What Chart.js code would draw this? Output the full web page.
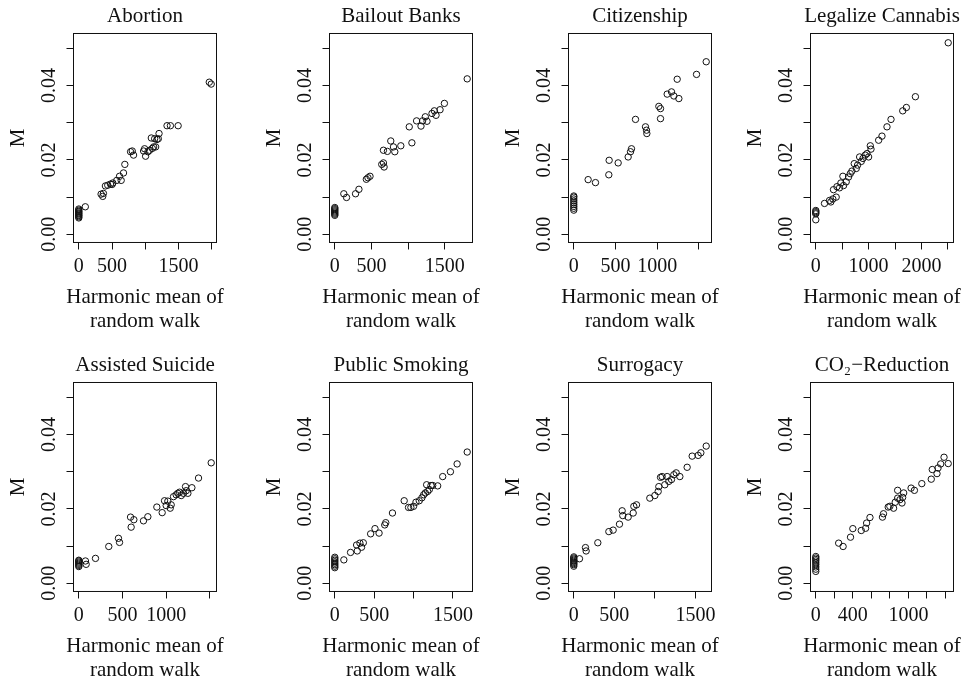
<!DOCTYPE html>
<html>
<head>
<meta charset="utf-8">
<script src="https://cdn.jsdelivr.net/npm/chart.js@4.4.0/dist/chart.umd.min.js"></script>
<style>
    html, body { margin: 0; padding: 0; background: #fff; overflow: hidden; }
    #board { position: relative; width: 965px; height: 682px; overflow: hidden; }
    .panel { position: absolute; width: 290px; height: 341px; }
</style>
</head>
<body>
<div id="board"></div>
<script>
// Shared y axis
const yTicks = [0, 0.01, 0.02, 0.03, 0.04, 0.05];
const yTickLabels = [0, 0.02, 0.04];

// Abortion
const abortionX = [0, 0, 0, 0, 0, 0, 0, 0, 0, 0, 98, 335, 360, 370, 400, 435, 476, 501, 511, 571, 612, 637, 672, 692, 778, 803, 823, 974, 989, 1004, 1039, 1064, 1090, 1105, 1125, 1140, 1155, 1175, 1206, 1195, 1326, 1377, 1493, 1961, 1990];
const abortionM = [0.0044, 0.0047, 0.005, 0.0052, 0.0055, 0.0057, 0.006, 0.0062, 0.0065, 0.0068, 0.0074, 0.0108, 0.0102, 0.011, 0.013, 0.0132, 0.0135, 0.0134, 0.0138, 0.0145, 0.0156, 0.0145, 0.0165, 0.0188, 0.0222, 0.0224, 0.0213, 0.0224, 0.023, 0.021, 0.0222, 0.0226, 0.0259, 0.0231, 0.0235, 0.0257, 0.0235, 0.0255, 0.0271, 0.0257, 0.0292, 0.0292, 0.0292, 0.0409, 0.0404];
const abortionTicks = [0, 500, 1000, 1500, 2000];
const abortionLabels = [0, 500, 1500];

// Bailout Banks
const bailoutX = [0, 0, 0, 0, 0, 0, 0, 0, 123, 160, 283, 329, 430, 452, 480, 640, 663, 672, 663, 717, 763, 800, 818, 900, 1015, 1051, 1115, 1175, 1197, 1234, 1257, 1325, 1357, 1380, 1435, 1494, 1805];
const bailoutM = [0.0051, 0.0054, 0.0057, 0.006, 0.0063, 0.0066, 0.0069, 0.0072, 0.0109, 0.0099, 0.0109, 0.0121, 0.0148, 0.0152, 0.0156, 0.0188, 0.0192, 0.0181, 0.0226, 0.0223, 0.0251, 0.0235, 0.0222, 0.0238, 0.0289, 0.0246, 0.0305, 0.0291, 0.0305, 0.0316, 0.0304, 0.0325, 0.0332, 0.032, 0.0335, 0.0352, 0.0418];
const bailoutTicks = [0, 500, 1000, 1500];
const bailoutLabels = [0, 500, 1500];

// Citizenship
const citizenX = [0, 0, 0, 0, 0, 0, 0, 0, 0, 172, 260, 420, 424, 532, 652, 680, 692, 740, 860, 872, 876, 1020, 1040, 1040, 1120, 1172, 1200, 1240, 1260, 1472, 1588];
const citizenM = [0.0065, 0.007, 0.0075, 0.008, 0.0085, 0.009, 0.0095, 0.01, 0.0103, 0.0147, 0.0139, 0.016, 0.0199, 0.0192, 0.0208, 0.0222, 0.023, 0.0309, 0.0289, 0.028, 0.0271, 0.0344, 0.0338, 0.0311, 0.0377, 0.0383, 0.0372, 0.0417, 0.0365, 0.043, 0.0464];
const citizenTicks = [0, 500, 1000, 1500];
const citizenLabels = [0, 500, 1000];

// Legalize Cannabis
const cannabisX = [0, 0, 0, 0, 0, 165, 260, 285, 323, 335, 386, 400, 450, 475, 513, 525, 576, 620, 652, 684, 728, 766, 791, 830, 861, 893, 937, 968, 1000, 1032, 1045, 1190, 1253, 1348, 1424, 1646, 1715, 1886, 2507];
const cannabisM = [0.0039, 0.0055, 0.0058, 0.0061, 0.0064, 0.0083, 0.0091, 0.0087, 0.0095, 0.012, 0.01, 0.0128, 0.0125, 0.0138, 0.0156, 0.0131, 0.0141, 0.0154, 0.0163, 0.017, 0.019, 0.0177, 0.0186, 0.0208, 0.0196, 0.0204, 0.0213, 0.0217, 0.0208, 0.0238, 0.0229, 0.0253, 0.0264, 0.0289, 0.0309, 0.0332, 0.0341, 0.037, 0.0515];
const cannabisTicks = [0, 500, 1000, 1500, 2000, 2500];
const cannabisLabels = [0, 1000, 2000];

// Assisted Suicide
const suicideX = [0, 0, 0, 0, 0, 0, 0, 76, 84, 191, 343, 454, 466, 592, 599, 630, 740, 790, 893, 954, 981, 1000, 1019, 1046, 1057, 1084, 1114, 1133, 1153, 1172, 1198, 1221, 1229, 1248, 1294, 1370, 1515];
const suicideM = [0.0045, 0.0048, 0.0051, 0.0054, 0.0057, 0.006, 0.0062, 0.006, 0.0051, 0.0067, 0.0099, 0.0121, 0.011, 0.0178, 0.0151, 0.0171, 0.0168, 0.0179, 0.0205, 0.019, 0.0222, 0.0209, 0.0221, 0.0202, 0.0211, 0.0233, 0.0238, 0.0242, 0.0245, 0.0236, 0.0242, 0.026, 0.0249, 0.0242, 0.0257, 0.0283, 0.0324];
const suicideTicks = [0, 500, 1000, 1500];
const suicideLabels = [0, 500, 1000];

// Public Smoking
const smokingX = [0, 0, 0, 0, 0, 0, 0, 0, 115, 200, 277, 285, 319, 340, 362, 455, 510, 562, 634, 647, 732, 881, 936, 966, 1000, 1030, 1072, 1106, 1128, 1149, 1166, 1179, 1200, 1221, 1243, 1306, 1370, 1468, 1553, 1681];
const smokingM = [0.0042, 0.0046, 0.005, 0.0054, 0.0058, 0.0062, 0.0066, 0.007, 0.0063, 0.0083, 0.0103, 0.0087, 0.0108, 0.0097, 0.0109, 0.0133, 0.0147, 0.0135, 0.0157, 0.0163, 0.0189, 0.0222, 0.0204, 0.0204, 0.0207, 0.0218, 0.0222, 0.023, 0.0238, 0.0243, 0.0265, 0.0247, 0.0252, 0.0263, 0.0263, 0.0262, 0.0287, 0.03, 0.0321, 0.0353];
const smokingTicks = [0, 500, 1000, 1500];
const smokingLabels = [0, 500, 1500];

// Surrogacy
const surrogacyX = [0, 0, 0, 0, 0, 0, 0, 0, 0, 70, 144, 152, 296, 432, 485, 563, 596, 604, 670, 732, 740, 773, 937, 999, 1040, 1048, 1069, 1089, 1122, 1151, 1171, 1204, 1233, 1262, 1307, 1397, 1459, 1533, 1566, 1632];
const surrogacyM = [0.0046, 0.005, 0.0053, 0.0056, 0.0059, 0.0062, 0.0065, 0.0068, 0.0071, 0.0066, 0.0096, 0.0087, 0.0109, 0.0139, 0.0143, 0.0159, 0.0195, 0.0182, 0.0178, 0.0189, 0.0207, 0.0211, 0.0229, 0.0236, 0.0247, 0.026, 0.0285, 0.0287, 0.0265, 0.0287, 0.0274, 0.0279, 0.0292, 0.0297, 0.0287, 0.0312, 0.0342, 0.0344, 0.0351, 0.0369];
const surrogacyTicks = [0, 500, 1000, 1500];
const surrogacyLabels = [0, 500, 1500];

// CO2-Reduction
const co2X = [0, 0, 0, 0, 0, 0, 0, 0, 0, 247, 295, 375, 400, 491, 538, 549, 585, 720, 731, 782, 800, 840, 858, 884, 884, 909, 931, 938, 949, 1029, 1065, 1145, 1247, 1258, 1309, 1320, 1349, 1385, 1430];
const co2M = [0.0032, 0.0038, 0.0044, 0.005, 0.0055, 0.006, 0.0064, 0.0068, 0.0072, 0.0108, 0.0099, 0.0124, 0.0147, 0.0142, 0.0148, 0.0162, 0.0177, 0.0178, 0.0187, 0.0205, 0.0207, 0.0202, 0.0218, 0.025, 0.0229, 0.0225, 0.0216, 0.0231, 0.0243, 0.0256, 0.025, 0.0268, 0.028, 0.0306, 0.0295, 0.031, 0.0321, 0.0339, 0.0322];
const co2Ticks = [0, 200, 400, 600, 800, 1000, 1200, 1400];
const co2Labels = [0, 400, 1000];

const panels = [
    { title: 'Abortion', x: abortionX, m: abortionM, ticks: abortionTicks, labels: abortionLabels },
    { title: 'Bailout Banks', x: bailoutX, m: bailoutM, ticks: bailoutTicks, labels: bailoutLabels },
    { title: 'Citizenship', x: citizenX, m: citizenM, ticks: citizenTicks, labels: citizenLabels },
    { title: 'Legalize Cannabis', x: cannabisX, m: cannabisM, ticks: cannabisTicks, labels: cannabisLabels },
    { title: 'Assisted Suicide', x: suicideX, m: suicideM, ticks: suicideTicks, labels: suicideLabels },
    { title: 'Public Smoking', x: smokingX, m: smokingM, ticks: smokingTicks, labels: smokingLabels },
    { title: 'Surrogacy', x: surrogacyX, m: surrogacyM, ticks: surrogacyTicks, labels: surrogacyLabels },
    { title: 'CO\u2082\u2212Reduction', x: co2X, m: co2M, ticks: co2Ticks, labels: co2Labels }
];

const ink = '#111';
const serif = '"Liberation Serif", "Times New Roman", serif';
const colCenter = [145, 401, 640, 882];
const rowTop = [0, 349];
const sidePad = 73.5;

// Draw the box around the plot region
const frame = {
    id: 'frame',
    afterDatasetsDraw(chart) {
        const a = chart.chartArea;
        const ctx = chart.ctx;
        ctx.save();
        ctx.strokeStyle = ink;
        ctx.lineWidth = 1;
        ctx.strokeRect(a.left, a.top, a.right - a.left, a.bottom - a.top);
        ctx.restore();
    }
};

function tickGrid() {
    return { display: true, drawOnChartArea: false, drawTicks: true, tickLength: 7, color: ink, lineWidth: 1 };
}

panels.forEach(function(p, i) {
    const wrap = document.createElement('div');
    wrap.className = 'panel';
    wrap.style.left = (colCenter[i % 4] - 145) + 'px';
    wrap.style.top = rowTop[Math.floor(i / 4)] + 'px';
    const canvas = document.createElement('canvas');
    canvas.width = 290;
    canvas.height = 341;
    wrap.appendChild(canvas);
    document.getElementById('board').appendChild(wrap);

    // R style range: data range widened by 4% on each side
    const xMax = Math.max.apply(null, p.x);
    const xMin = Math.min.apply(null, p.x);
    const span = xMax - xMin;

    new Chart(canvas.getContext('2d'), {
        type: 'scatter',
        data: {
            datasets: [{
                data: p.x.map((v, k) => ({ x: v, y: p.m[k] })),
                pointRadius: 3.2,
                pointHoverRadius: 3.2,
                pointBorderWidth: 1,
                pointBorderColor: ink,
                pointBackgroundColor: 'rgba(0,0,0,0)'
            }]
        },
        options: {
            responsive: false,
            animation: false,
            events: [],
            layout: { padding: 0 },
            plugins: {
                legend: { display: false },
                tooltip: { enabled: false },
                title: {
                    display: true,
                    text: p.title,
                    color: ink,
                    font: { family: serif, size: 21, weight: 'normal', lineHeight: 1.095 },
                    padding: { top: 4.5, bottom: 6 }
                },
                subtitle: {
                    display: true,
                    position: 'bottom',
                    text: ['Harmonic mean of', 'random walk'],
                    color: ink,
                    font: { family: serif, size: 21, weight: 'normal', lineHeight: 1.11 },
                    padding: { top: 0, bottom: 8.15 }
                }
            },
            scales: {
                x: {
                    type: 'linear',
                    position: 'bottom',
                    min: xMin - 0.04 * span,
                    max: xMax + 0.04 * span,
                    afterBuildTicks: function(scale) {
                        scale.ticks = p.ticks.map(v => ({ value: v }));
                    },
                    afterFit: function(scale) { scale.height = 43.75; },
                    grid: tickGrid(),
                    border: { display: false },
                    ticks: {
                        autoSkip: false,
                        maxRotation: 0,
                        minRotation: 0,
                        padding: 5,
                        color: ink,
                        font: { family: serif, size: 20 },
                        callback: function(value) {
                            return p.labels.includes(value) ? String(value) : '';
                        }
                    }
                },
                y: {
                    type: 'linear',
                    position: 'left',
                    min: -0.0022,
                    max: 0.054,
                    afterBuildTicks: function(scale) {
                        scale.ticks = yTicks.map(v => ({ value: v }));
                    },
                    afterFit: function(scale) { scale.width = sidePad; },
                    grid: tickGrid(),
                    border: { display: false },
                    ticks: {
                        autoSkip: false,
                        minRotation: 90,
                        maxRotation: 90,
                        crossAlign: 'center',
                        padding: -1,
                        color: ink,
                        font: { family: serif, size: 20 },
                        callback: function(value) {
                            return yTickLabels.includes(value) ? value.toFixed(2) : '';
                        }
                    },
                    title: {
                        display: true,
                        text: 'M',
                        color: ink,
                        font: { family: serif, size: 21, lineHeight: 1.2 },
                        padding: { top: 6, bottom: 0 }
                    }
                },
                // empty right side so the titles centre over the box
                spacer: {
                    type: 'linear',
                    position: 'right',
                    display: true,
                    grid: { display: false },
                    border: { display: false },
                    ticks: { display: false },
                    afterFit: function(scale) { scale.width = sidePad; }
                }
            }
        },
        plugins: [frame]
    });
});
</script>
</body>
</html>
